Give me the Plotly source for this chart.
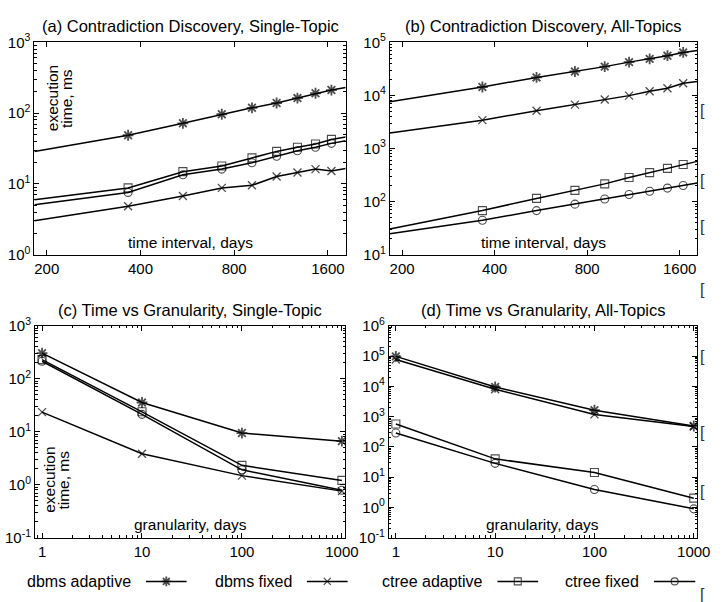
import numpy as np
import plotly.graph_objects as go

# ---------------- data ----------------
interval_days = [182.5, 365, 547.5, 730, 912.5, 1095, 1277.5, 1460, 1642.5, 1825]
a_dbms_adaptive = [28.8, 48.7, 71.8, 96.3, 118.8, 139, 163, 190.6, 211.6, 230]
a_dbms_fixed = [3.01, 4.83, 6.76, 8.79, 9.56, 12.7, 14.5, 16.2, 15.2, 16.5]
a_ctree_adaptive = [5.96, 8.79, 14.9, 17.9, 23.3, 28.8, 33, 36.6, 42.5, 46]
a_ctree_fixed = [5.09, 7.59, 13.5, 16.2, 19.9, 24.6, 29.4, 33, 37.4, 40.7]

b_dbms_adaptive = [7600, 14400, 21800, 28200, 34800, 42300, 48700, 55900, 64400, 70300]
b_dbms_fixed = [1950, 3420, 5150, 6700, 8350, 9900, 12000, 13600, 16900, 18300]
b_ctree_adaptive = [30.6, 67.8, 115, 163, 216, 285, 351, 422, 499, 573]
b_ctree_fixed = [24.8, 44.6, 67.8, 89.7, 112, 136, 157, 180, 201, 225]

granularity_days = [1, 10, 100, 1000]
c_dbms_adaptive = [304, 35.7, 9.46, 6.66]
c_dbms_fixed = [23.5, 3.86, 1.49, 0.76]
c_ctree_adaptive = [230, 23.8, 2.33, 1.21]
c_ctree_fixed = [214, 21.3, 1.92, 0.79]

d_dbms_adaptive = [97500, 9520, 1633, 490]
d_dbms_fixed = [76400, 8020, 1186, 470]
d_ctree_adaptive = [569, 40.4, 14.4, 2.04]
d_ctree_fixed = [287, 28.7, 3.94, 0.905]

series_names = ["dbms adaptive", "dbms fixed", "ctree adaptive", "ctree fixed"]
interval_ticks = [200, 400, 800, 1600]
granularity_ticks = [1, 10, 100, 1000]
panel_titles = ["(a) Contradiction Discovery, Single-Topic",
                "(b) Contradiction Discovery, All-Topics",
                "(c) Time vs Granularity, Single-Topic",
                "(d) Time vs Granularity, All-Topics"]

# ---------------- styles ----------------
FONT = "Liberation Sans, Arial, Helvetica, sans-serif"
symbols = {"dbms adaptive": ("asterisk-open", 9, 1.8),
           "dbms fixed": ("x-thin-open", 8, 1.3),
           "ctree adaptive": ("square-open", 8, 1.1),
           "ctree fixed": ("circle-open", 8, 1.1)}

fig = go.Figure()

W, H = 724, 602
def px_x(a, b):
    return [a / W, b / W]
def px_y(top, bottom):
    return [1 - bottom / H, 1 - top / H]

panels = {
    1: dict(xd=px_x(35, 352), yd=px_y(32.3, 251.7)),
    2: dict(xd=px_x(397, 710), yd=px_y(32.3, 251.7)),
    3: dict(xd=px_x(35.7, 351.7), yd=px_y(325, 544)),
    4: dict(xd=px_x(396, 710), yd=px_y(325, 544)),
}

panel_data = {
    1: (interval_days, [a_dbms_adaptive, a_dbms_fixed, a_ctree_adaptive, a_ctree_fixed], True),
    2: (interval_days, [b_dbms_adaptive, b_dbms_fixed, b_ctree_adaptive, b_ctree_fixed], True),
    3: (granularity_days, [c_dbms_adaptive, c_dbms_fixed, c_ctree_adaptive, c_ctree_fixed], False),
    4: (granularity_days, [d_dbms_adaptive, d_dbms_fixed, d_ctree_adaptive, d_ctree_fixed], False),
}

for k, (xs, ys_list, edge) in panel_data.items():
    sfx = "" if k == 1 else str(k)
    for name, ys in zip(series_names, ys_list):
        sym, size, lw = symbols[name]
        sizes = [size] * len(xs)
        if edge:
            sizes[0] = 0
            sizes[-1] = 0
        fig.add_trace(go.Scatter(
            x=xs, y=ys, mode="lines+markers", name=name, showlegend=False,
            line=dict(color="black", width=1.5),
            marker=dict(symbol=sym, size=sizes, color="black",
                        line=dict(color="black", width=lw)),
            xaxis="x" + sfx, yaxis="y" + sfx, cliponaxis=True))

def minor_vals(lo, hi):
    out = []
    for e in range(lo, hi):
        for m in range(2, 10):
            out.append(m * 10.0 ** e)
    return out

def yaxis_cfg(k, lo, hi):
    exps = list(range(lo, hi + 1))
    return dict(
        type="log", domain=panels[k]["yd"], range=[lo, hi],
        anchor="x" if k == 1 else "x" + str(k),
        tickmode="array", tickvals=[10.0 ** e for e in exps],
        ticktext=["10<sup>%s</sup>" % (str(e) if e >= 0 else "-" + str(-e)) for e in exps],
        ticks="inside", ticklen=5, tickwidth=1, tickcolor="black",
        minor=dict(ticks="inside", ticklen=2.5, tickwidth=1, tickcolor="black",
                   tickvals=minor_vals(lo, hi), showgrid=False),
        showline=True, linecolor="black", linewidth=1, mirror="ticks",
        showgrid=False, zeroline=False,
        tickfont=dict(family=FONT, size=15, color="black"),
    )

def xaxis_cfg(k, rng, tv, minor=None):
    cfg = dict(
        type="log", domain=panels[k]["xd"], range=rng,
        anchor="y" if k == 1 else "y" + str(k),
        tickmode="array", tickvals=tv, ticktext=[str(v) for v in tv],
        ticks="inside", ticklen=5, tickwidth=1, tickcolor="black",
        showline=True, linecolor="black", linewidth=1, mirror="ticks",
        showgrid=False, zeroline=False,
        tickfont=dict(family=FONT, size=15, color="black"),
    )
    if minor is not None:
        cfg["minor"] = dict(ticks="inside", ticklen=2.5, tickwidth=1, tickcolor="black",
                            tickvals=minor, showgrid=False)
    return cfg

xr_int = [np.log10(interval_days[0]), np.log10(interval_days[-1])]
xr_gran = [-0.07, 3.035]
gran_minor = minor_vals(-1, 4)

layout = dict(
    width=W, height=H, margin=dict(l=0, r=0, t=0, b=0),
    paper_bgcolor="white", plot_bgcolor="white", showlegend=False,
    font=dict(family=FONT, color="black"),
    xaxis=xaxis_cfg(1, xr_int, interval_ticks), yaxis=yaxis_cfg(1, 0, 3),
    xaxis2=xaxis_cfg(2, xr_int, interval_ticks), yaxis2=yaxis_cfg(2, 1, 5),
    xaxis3=xaxis_cfg(3, xr_gran, granularity_ticks, gran_minor), yaxis3=yaxis_cfg(3, -1, 3),
    xaxis4=xaxis_cfg(4, xr_gran, granularity_ticks, gran_minor), yaxis4=yaxis_cfg(4, -1, 6),
    xaxis5=dict(domain=[0, 1], range=[0, W], visible=False, anchor="y5"),
    yaxis5=dict(domain=[0, 0.0432], range=[0, 1], visible=False, anchor="x5"),
)
fig.update_layout(**layout)

# legend (text left of the line sample, like the original)
legend_lines = [(148.7, 190), (312.5, 354), (506.5, 548), (666, 708)]
for name, (x0, x1) in zip(series_names, legend_lines):
    sym, size, lw = symbols[name]
    fig.add_trace(go.Scatter(
        x=[x0, (x0 + x1) / 2, x1], y=[0.5, 0.5, 0.5], mode="lines+markers",
        showlegend=False, hoverinfo="skip",
        line=dict(color="black", width=1.5),
        marker=dict(symbol=sym, size=[0, size - 1, 0], color="black",
                    line=dict(color="black", width=lw)),
        xaxis="x5", yaxis="y5", cliponaxis=False))

ann = []
def add_text(x, y, text, size=15, angle=0, xanchor="center", color="black"):
    ann.append(dict(x=x / W, y=1 - y / H, xref="paper", yref="paper", text=text,
                    showarrow=False, xanchor=xanchor, yanchor="middle",
                    textangle=angle, font=dict(family=FONT, size=size, color=color)))

# titles
add_text(193.5, 16, panel_titles[0], size=16.5)
add_text(553.5, 16, panel_titles[1], size=16.5)
add_text(193.5, 309, panel_titles[2], size=16.5)
add_text(553, 309, panel_titles[3], size=16.5)

# inner axis labels
add_text(194, 239, "time interval, days", size=15.5)
add_text(553, 239, "time interval, days", size=15.5)
add_text(194, 530, "granularity, days", size=15.5)
add_text(552, 530, "granularity, days", size=15.5)
add_text(53, 90, "execution", size=15.5, angle=-90)
add_text(67, 90, "time, ms", size=15.5, angle=-90)
add_text(51, 484, "execution", size=15.5, angle=-90)
add_text(65, 484, "time, ms", size=15.5, angle=-90)

# legend texts
for name, (x0, x1) in zip(series_names, legend_lines):
    add_text(x0 - 13, 589, name, size=16, xanchor="right")

# cropped neighbouring-figure fragments on the right edge
for yy in [103, 175, 223, 288, 357, 435, 496, 603]:
    add_text(711, yy, "[", size=16, xanchor="left", color="#333333")

fig.update_layout(annotations=ann)
fig.write_html("out.html")
